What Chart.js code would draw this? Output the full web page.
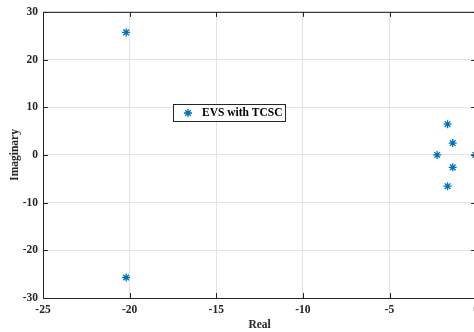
<!DOCTYPE html>
<html>
<head>
<meta charset="utf-8">
<script src="https://cdn.jsdelivr.net/npm/chart.js@4.4.0/dist/chart.umd.min.js"></script>
<style>
  html, body { margin: 0; padding: 0; background: #fff; overflow: hidden; }
  #wrap { width: 484px; height: 332px; }
</style>
</head>
<body>
<div id="wrap"><canvas id="canvas" width="484" height="332"></canvas></div>
<script>
// eigenvalues
var realParts = [-20.2, -20.2, -1.65, -1.35, -2.25, -1.35, -1.65, -0.05];
var imagParts = [25.7, -25.7, 6.45, 2.5, 0, -2.6, -6.55, 0];
var xTicks = [-25, -20, -15, -10, -5, 0];
var yTicks = [-30, -20, -10, 0, 10, 20, 30];
var seriesName = 'EVS with TCSC';

var blue = '#0072BD';
var fontFace = '"Liberation Serif", "Times New Roman", serif';

var points = realParts.map(function(x, i) {
  return { x: x, y: imagParts[i] };
});

// box round the axes, inward tick marks, and a legend placed inside
var matlabLook = {
  id: 'matlabLook',
  afterDraw: function(chart) {
    var ctx = chart.ctx;
    var a = chart.chartArea;
    var xs = chart.scales.x, ys = chart.scales.y;
    ctx.save();
    ctx.strokeStyle = '#262626';
    ctx.lineWidth = 1;
    ctx.beginPath();
    ctx.moveTo(a.left + 0.5, a.bottom + 0.5);
    ctx.lineTo(a.left + 0.5, a.top + 0.5);
    ctx.lineTo(a.right, a.top + 0.5);
    ctx.moveTo(a.left, a.bottom + 0.5);
    ctx.lineTo(a.right, a.bottom + 0.5);
    ctx.moveTo(a.right - 0.5, a.top);
    ctx.lineTo(a.right - 0.5, a.bottom);
    xTicks.forEach(function(v) {
      var px = Math.round(xs.getPixelForValue(v)) + 0.5;
      ctx.moveTo(px, a.bottom); ctx.lineTo(px, a.bottom - 5);
      ctx.moveTo(px, a.top); ctx.lineTo(px, a.top + 5);
    });
    yTicks.forEach(function(v) {
      var py = Math.round(ys.getPixelForValue(v)) + 0.5;
      ctx.moveTo(a.left, py); ctx.lineTo(a.left + 5, py);
      ctx.moveTo(a.right, py); ctx.lineTo(a.right - 5, py);
    });
    ctx.stroke();

    // legend
    var lx = 173, ly = 104, lw = 112, lh = 17;
    ctx.fillStyle = '#fff';
    ctx.fillRect(lx, ly, lw, lh);
    ctx.strokeStyle = '#262626';
    ctx.strokeRect(lx + 0.5, ly + 0.5, lw, lh);
    var ds = chart.data.datasets[0];
    ctx.strokeStyle = blue;
    ctx.fillStyle = blue;
    ctx.lineWidth = 1.3;
    Chart.helpers.drawPoint(ctx, {
      pointStyle: 'star', radius: 4, rotation: 0, borderWidth: 1.3
    }, lx + 15, ly + lh / 2 + 0.5);
    ctx.fillStyle = '#000';
    ctx.font = 'bold 11.5px ' + fontFace;
    ctx.textBaseline = 'middle';
    ctx.fillText(ds.label, lx + 29, ly + lh / 2 + 1);
    ctx.restore();
  }
};

window.onload = function() {
  var ctx = document.getElementById('canvas').getContext('2d');
  window.myChart = new Chart(ctx, {
    type: 'scatter',
    data: {
      datasets: [{
        label: seriesName,
        data: points,
        pointStyle: 'star',
        pointRadius: 4,
        pointBorderWidth: 1.3,
        borderColor: blue,
        backgroundColor: blue
      }]
    },
    options: {
      responsive: false,
      animation: false,
      layout: { padding: { top: 2, right: 0, bottom: 0, left: 0 } },
      plugins: {
        legend: { display: false },
        tooltip: { enabled: false }
      },
      scales: {
        x: {
          type: 'linear',
          min: -25, max: 0,
          afterBuildTicks: function(s) { s.ticks = xTicks.map(function(v) { return { value: v }; }); },
          afterFit: function(s) { s.height = 34; },
          grid: { color: '#e3e3e3', drawTicks: false },
          border: { display: false },
          ticks: {
            color: '#262626', padding: 5, maxRotation: 0, autoSkip: false,
            font: { family: fontFace, size: 11.5, weight: 'bold' }
          },
          title: {
            display: true, text: 'Real', color: '#262626', padding: { top: 0, bottom: 0 },
            font: { family: fontFace, size: 11.5, weight: 'bold' }
          }
        },
        y: {
          type: 'linear',
          min: -30, max: 30,
          afterBuildTicks: function(s) { s.ticks = yTicks.map(function(v) { return { value: v }; }); },
          afterFit: function(s) { s.width = 43; },
          grid: { color: '#e3e3e3', drawTicks: false },
          border: { display: false },
          ticks: {
            color: '#262626', padding: 5,
            font: { family: fontFace, size: 11.5, weight: 'bold' }
          },
          title: {
            display: true, text: 'Imaginary', color: '#262626', padding: { top: 8, bottom: 0 },
            font: { family: fontFace, size: 11.5, weight: 'bold' }
          }
        }
      }
    },
    plugins: [matlabLook]
  });
};
</script>
</body>
</html>
